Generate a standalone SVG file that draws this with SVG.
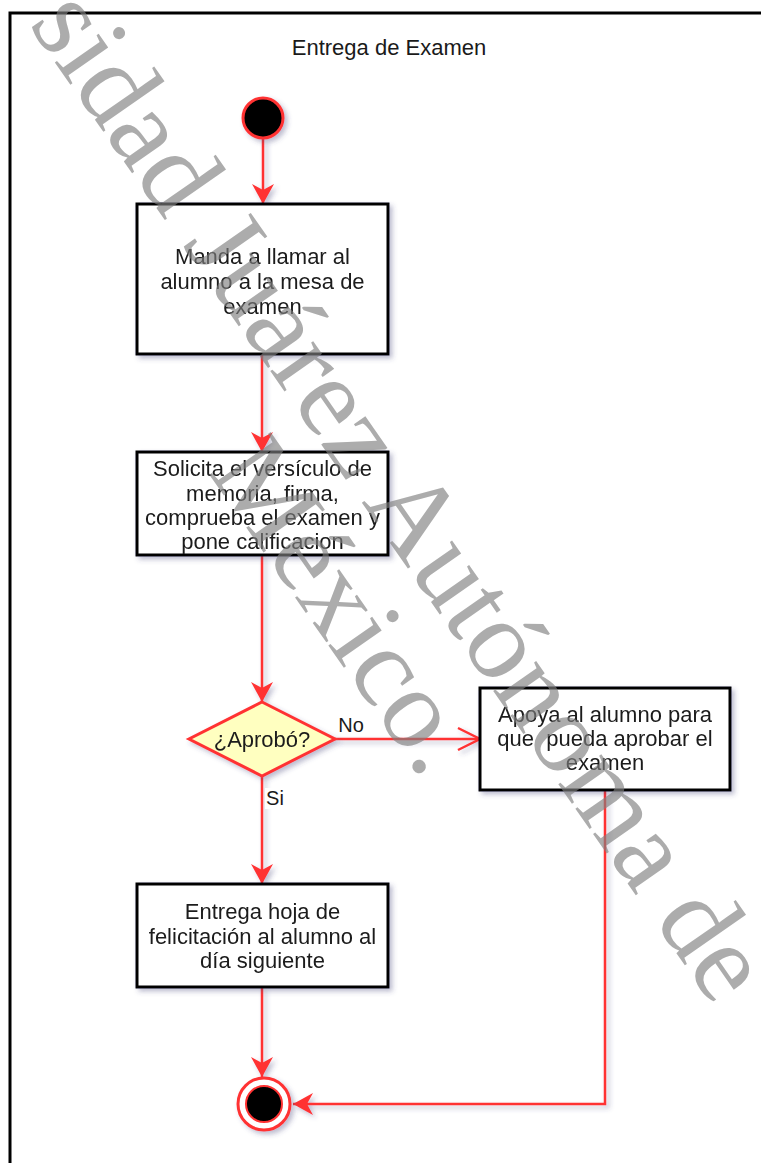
<svg xmlns="http://www.w3.org/2000/svg" width="761" height="1163" viewBox="0 0 761 1163">
<defs>
<style>
.t{font-family:"Liberation Sans",Arial,sans-serif;font-size:22px;fill:#1a1a1a;text-anchor:middle}
.box{fill:#ffffff;stroke:#000000;stroke-width:3}
.edge{fill:none;stroke:#ff3333;stroke-width:2.5}
.wm{font-family:"Liberation Serif","Times New Roman",serif;font-size:114px;fill:#808080;fill-opacity:0.65}
</style>
<filter id="sh" x="-20%" y="-20%" width="150%" height="150%">
<feDropShadow dx="3" dy="3" stdDeviation="2.5" flood-color="#40407a" flood-opacity="0.35"/>
</filter>
<marker id="ah" markerUnits="userSpaceOnUse" markerWidth="26" markerHeight="26" viewBox="-22 -13 24 26" refX="0" refY="0" orient="auto">
<path d="M0,0 L-20,-11 L-14,0 L-20,11 Z" fill="#ff3333"/>
</marker>
<marker id="ao" markerUnits="userSpaceOnUse" markerWidth="28" markerHeight="28" viewBox="-24 -14 26 28" refX="0" refY="0" orient="auto">
<path d="M-22,-11 L0,0 L-22,11" fill="none" stroke="#ff3333" stroke-width="2.5"/>
</marker>
</defs>
<rect width="761" height="1163" fill="#ffffff"/>
<g id="lane">
<rect x="10" y="13" width="820" height="1200" fill="#ffffff" stroke="#000" stroke-width="3"/>
<path d="M11.5,78 H800" stroke="#000" stroke-width="3" filter="url(#sh)"/>
<path d="M10,78 V1170" stroke="#000" stroke-width="3" filter="url(#sh)"/>
<text class="t" x="389" y="55">Entrega de Examen</text>
</g>
<g id="edges" filter="url(#sh)">
<path class="edge" d="M263,139 V204" marker-end="url(#ah)"/>
<path class="edge" d="M262,354 V452" marker-end="url(#ah)"/>
<path class="edge" d="M262,555 V702" marker-end="url(#ah)"/>
<path class="edge" d="M335,739 H480" marker-end="url(#ao)"/>
<path class="edge" d="M262,776 V884" marker-end="url(#ah)"/>
<path class="edge" d="M262,987 V1077" marker-end="url(#ah)"/>
<path class="edge" d="M605,790 V1104 H293" marker-end="url(#ah)"/>
</g>
<g id="edge-labels">
<rect x="337" y="715" width="28" height="21" fill="#ffffff"/>
<text class="t" x="351" y="732" style="font-size:20px">No</text>
<rect x="265" y="788" width="20" height="21" fill="#ffffff"/>
<text class="t" x="275" y="805" style="font-size:20px">Si</text>
</g>
<g id="start" filter="url(#sh)">
<circle cx="263" cy="118" r="20" fill="#000" stroke="#ff3333" stroke-width="3"/>
</g>
<g id="n1" filter="url(#sh)">
<rect class="box" x="137" y="204" width="251" height="150"/>
<text class="t" x="262.5" y="264">Manda a llamar al</text>
<text class="t" x="262.5" y="289">alumno a la mesa de</text>
<text class="t" x="262.5" y="314">examen</text>
</g>
<g id="n2" filter="url(#sh)">
<rect class="box" x="137" y="452" width="251" height="103"/>
<text class="t" x="262.5" y="476">Solicita el versículo de</text>
<text class="t" x="262.5" y="501">memoria, firma,</text>
<text class="t" x="262.5" y="525">comprueba el examen y</text>
<text class="t" x="262.5" y="549">pone calificacion</text>
</g>
<g id="d1" filter="url(#sh)">
<polygon points="262,702 335,739 262,776 189,739" fill="#ffffc0" stroke="#ff3333" stroke-width="3"/>
<text class="t" x="262" y="747">¿Aprobó?</text>
</g>
<g id="n3" filter="url(#sh)">
<rect class="box" x="480" y="688" width="250" height="102"/>
<text class="t" x="605" y="722">Apoya al alumno para</text>
<text class="t" x="605" y="746" xml:space="preserve">que  pueda aprobar el</text>
<text class="t" x="605" y="770">examen</text>
</g>
<g id="n4" filter="url(#sh)">
<rect class="box" x="137" y="884" width="251" height="103"/>
<text class="t" x="262.5" y="919">Entrega hoja de</text>
<text class="t" x="262.5" y="944">felicitación al alumno al</text>
<text class="t" x="262.5" y="968">día siguiente</text>
</g>
<g id="end" filter="url(#sh)">
<circle cx="264" cy="1104" r="26" fill="#ffffff" stroke="#ff3333" stroke-width="3"/>
<circle cx="264" cy="1104" r="18" fill="#000" stroke="#ff3333" stroke-width="2"/>
</g>
<g id="watermark">
<text class="wm" transform="translate(28,24) rotate(55.1)">sidad Juárez Autónoma de</text>
<text class="wm" transform="translate(423,781) rotate(55.1)" text-anchor="end">México.</text>
</g>
</svg>
